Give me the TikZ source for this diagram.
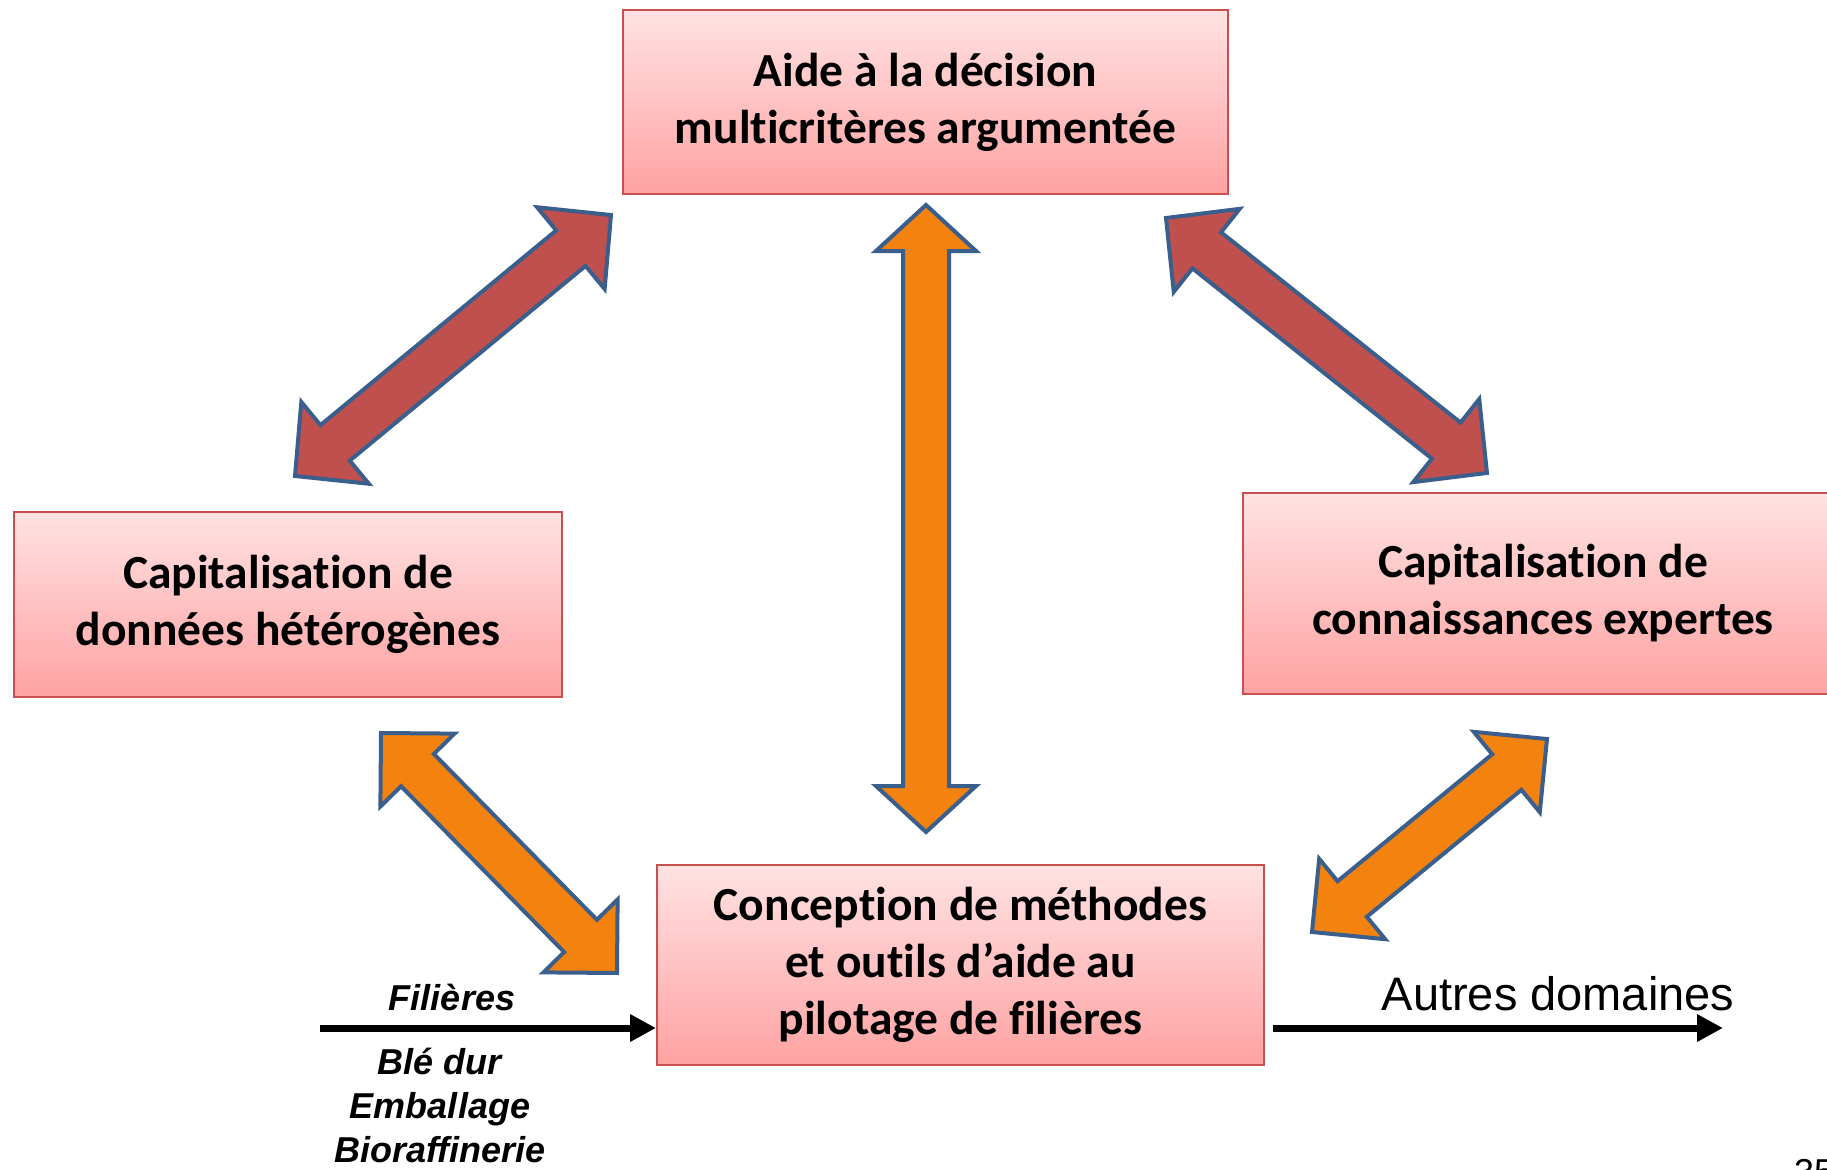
\documentclass[tikz,border=0pt]{standalone}
\usepackage{fontspec}
\setmainfont{Carlito}[Ligatures={NoCommon}]
\newfontfamily\arialf{Liberation Sans}
\usetikzlibrary{arrows.meta,calc}
\definecolor{boxtop}{HTML}{FFE2E2}
\definecolor{boxbot}{HTML}{FFA2A2}
\definecolor{boxborder}{HTML}{C9504F}
\definecolor{arrline}{HTML}{3B5F8C}
\definecolor{redfill}{HTML}{C0504D}
\definecolor{orangefill}{HTML}{F4820E}
\tikzset{
  ebox/.style={draw=boxborder, line width=2pt, top color=boxtop, bottom color=boxbot,
    align=center, inner sep=0pt, font=\bfseries\fontsize{47.5}{57}\selectfont},
  fatline/.style={draw=arrline, line width=4pt, line join=miter},
  thinarrow/.style={line width=7pt, -{Triangle[length=26pt,width=26pt]}},
  filtext/.style={font=\arialf\bfseries\itshape\fontsize{36}{44}\selectfont, align=center}
}
\newcommand\fatarrow[5]{%
  \path (#1); \pgfgetlastxy{\fax}{\fay}%
  \path (#2); \pgfgetlastxy{\fbx}{\fby}%
  \pgfmathsetmacro\faang{atan2(\fby-\fay,\fbx-\fax)}%
  \pgfmathsetmacro\falen{veclen(\fbx-\fax,\fby-\fay)}%
  \pgfmathsetmacro\fahl{#4}%
  \pgfmathsetmacro\fahw{#5/2}%
  \pgfmathsetmacro\fasw{23}%
  \begin{scope}[shift={(#1)}, rotate=\faang, x=1pt, y=1pt]
    \draw[fatline, fill=#3] (0,0) -- (\fahl,\fahw) -- (\fahl,\fasw) -- (\falen-\fahl,\fasw)
      -- (\falen-\fahl,\fahw) -- (\falen,0) -- (\falen-\fahl,-\fahw) -- (\falen-\fahl,-\fasw)
      -- (\fahl,-\fasw) -- (\fahl,-\fahw) -- cycle;
  \end{scope}}
\begin{document}
\begin{tikzpicture}[x=1pt,y=-1pt]
\useasboundingbox (0,0) rectangle (1827,1169);
\fill[white] (0,0) rectangle (1827,1169);

% boxes
\node[ebox, minimum width=605pt, minimum height=184pt] (top) at (925.5,102.5)
  {\raisebox{-4pt}{Aide à la décision}\\\raisebox{-4pt}{multicritères argumentée}};
\node[ebox, minimum width=548pt, minimum height=185pt] (left) at (288,604)
  {Capitalisation de\\données hétérogènes};
\node[ebox, minimum width=600pt, minimum height=201pt] (right) at (1543,593.5)
  {Capitalisation de\\connaissances expertes};
\node[ebox, minimum width=607pt, minimum height=200pt] (bot) at (960.5,965)
  {Conception de méthodes\\et outils d’aide au\\pilotage de filières};

% fat arrow tips
\coordinate (rl1) at (295,476);
\coordinate (rl2) at (611,215);
\coordinate (rr1) at (1166,218);
\coordinate (rr2) at (1487,473);
\coordinate (v1) at (926,205);
\coordinate (v2) at (926,832);
\coordinate (ol1) at (381,733);
\coordinate (ol2) at (617,973);
\coordinate (or1) at (1312,932);
\coordinate (or2) at (1547,739);

\fatarrow{rl1}{rl2}{redfill}{52}{106}
\fatarrow{rr1}{rr2}{redfill}{52}{106}
\fatarrow{v1}{v2}{orangefill}{46}{100}
\fatarrow{ol1}{ol2}{orangefill}{52}{104}
\fatarrow{or1}{or2}{orangefill}{52}{104}

% thin arrows
\coordinate (fstart) at (320,1028);
\draw[thinarrow] (fstart) -- (fstart -| bot.west);
\coordinate (aend) at (1723,1028);
\draw[thinarrow] ($(bot.east |- aend)+(8,0)$) -- (aend);

% labels
\node[filtext, anchor=base] (fil) at (452,1010) {Filières};
\node[filtext, anchor=north] (list) at (440,1045) {Blé dur\\Emballage\\Bioraffinerie};
\node[font=\arialf\fontsize{47}{56}\selectfont, anchor=base] (autres) at (1558,1010) {Autres domaines};
\node[font=\arialf\fontsize{36}{40}\selectfont, anchor=north west, inner sep=0pt] (page) at (1794,1159) {35};
\end{tikzpicture}
\end{document}
